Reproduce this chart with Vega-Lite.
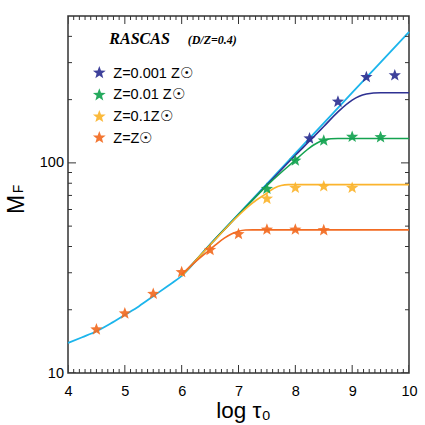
{
  "$schema": "https://vega.github.io/schema/vega-lite/v6.json",
  "width": 341,
  "height": 357,
  "autosize": "none",
  "padding": {"left": 68, "top": 16, "right": 16, "bottom": 52},
  "background": "white",
  "config": {"view": {"stroke": "#333333", "strokeWidth": 1.5}, "font": "Liberation Sans"},
  "datasets": {
    "curves": [
      {"series": "none", "tau": 4.0, "M": 13.9},
      {"series": "none", "tau": 4.25, "M": 14.8},
      {"series": "none", "tau": 4.5, "M": 15.8},
      {"series": "none", "tau": 4.75, "M": 17.2},
      {"series": "none", "tau": 5.0, "M": 18.9},
      {"series": "none", "tau": 5.25, "M": 20.8},
      {"series": "none", "tau": 5.5, "M": 23.2},
      {"series": "none", "tau": 5.75, "M": 25.9},
      {"series": "none", "tau": 6.0, "M": 29.0},
      {"series": "none", "tau": 6.5, "M": 40.9},
      {"series": "none", "tau": 7.0, "M": 57.0},
      {"series": "none", "tau": 7.5, "M": 79.5},
      {"series": "none", "tau": 8.0, "M": 110.9},
      {"series": "none", "tau": 8.5, "M": 154.7},
      {"series": "none", "tau": 9.0, "M": 215.8},
      {"series": "none", "tau": 9.5, "M": 301},
      {"series": "none", "tau": 10.0, "M": 420},
      {"series": "Z=0.001 Z☉", "tau": 6.0, "M": 29.0},
      {"series": "Z=0.001 Z☉", "tau": 6.5, "M": 40.8},
      {"series": "Z=0.001 Z☉", "tau": 7.0, "M": 56.6},
      {"series": "Z=0.001 Z☉", "tau": 7.5, "M": 78.6},
      {"series": "Z=0.001 Z☉", "tau": 8.0, "M": 108.7},
      {"series": "Z=0.001 Z☉", "tau": 8.25, "M": 127},
      {"series": "Z=0.001 Z☉", "tau": 8.5, "M": 149},
      {"series": "Z=0.001 Z☉", "tau": 8.75, "M": 175},
      {"series": "Z=0.001 Z☉", "tau": 9.0, "M": 199},
      {"series": "Z=0.001 Z☉", "tau": 9.125, "M": 207.5},
      {"series": "Z=0.001 Z☉", "tau": 9.25, "M": 212.5},
      {"series": "Z=0.001 Z☉", "tau": 9.375, "M": 215},
      {"series": "Z=0.001 Z☉", "tau": 9.5, "M": 215.6},
      {"series": "Z=0.001 Z☉", "tau": 10.0, "M": 215.6},
      {"series": "Z=0.01 Z☉", "tau": 6.0, "M": 29.0},
      {"series": "Z=0.01 Z☉", "tau": 6.5, "M": 40.8},
      {"series": "Z=0.01 Z☉", "tau": 7.0, "M": 56.7},
      {"series": "Z=0.01 Z☉", "tau": 7.5, "M": 78},
      {"series": "Z=0.01 Z☉", "tau": 7.75, "M": 90},
      {"series": "Z=0.01 Z☉", "tau": 8.0, "M": 103},
      {"series": "Z=0.01 Z☉", "tau": 8.125, "M": 110.5},
      {"series": "Z=0.01 Z☉", "tau": 8.25, "M": 118},
      {"series": "Z=0.01 Z☉", "tau": 8.375, "M": 124},
      {"series": "Z=0.01 Z☉", "tau": 8.5, "M": 128},
      {"series": "Z=0.01 Z☉", "tau": 8.625, "M": 130.2},
      {"series": "Z=0.01 Z☉", "tau": 8.75, "M": 130.6},
      {"series": "Z=0.01 Z☉", "tau": 10.0, "M": 130.6},
      {"series": "Z=0.1Z☉", "tau": 6.0, "M": 29.0},
      {"series": "Z=0.1Z☉", "tau": 6.5, "M": 40.6},
      {"series": "Z=0.1Z☉", "tau": 7.0, "M": 56.2},
      {"series": "Z=0.1Z☉", "tau": 7.25, "M": 64.5},
      {"series": "Z=0.1Z☉", "tau": 7.5, "M": 71.8},
      {"series": "Z=0.1Z☉", "tau": 7.625, "M": 75.7},
      {"series": "Z=0.1Z☉", "tau": 7.75, "M": 78.1},
      {"series": "Z=0.1Z☉", "tau": 7.875, "M": 78.8},
      {"series": "Z=0.1Z☉", "tau": 10.0, "M": 78.8},
      {"series": "Z=Z☉", "tau": 6.0, "M": 29.5},
      {"series": "Z=Z☉", "tau": 6.25, "M": 34.0},
      {"series": "Z=Z☉", "tau": 6.5, "M": 38.7},
      {"series": "Z=Z☉", "tau": 6.625, "M": 41.3},
      {"series": "Z=Z☉", "tau": 6.75, "M": 43.8},
      {"series": "Z=Z☉", "tau": 6.875, "M": 45.9},
      {"series": "Z=Z☉", "tau": 7.0, "M": 47.3},
      {"series": "Z=Z☉", "tau": 7.125, "M": 47.9},
      {"series": "Z=Z☉", "tau": 7.25, "M": 48},
      {"series": "Z=Z☉", "tau": 10.0, "M": 48}
    ],
    "stars": [
      {"series": "Z=0.001 Z☉", "tau": 8.25, "M": 130.6},
      {"series": "Z=0.001 Z☉", "tau": 8.75, "M": 195.4},
      {"series": "Z=0.001 Z☉", "tau": 9.25, "M": 256},
      {"series": "Z=0.001 Z☉", "tau": 9.75, "M": 261},
      {"series": "Z=0.01 Z☉", "tau": 7.5, "M": 75.2},
      {"series": "Z=0.01 Z☉", "tau": 8.0, "M": 102.5},
      {"series": "Z=0.01 Z☉", "tau": 8.5, "M": 127.7},
      {"series": "Z=0.01 Z☉", "tau": 9.0, "M": 133},
      {"series": "Z=0.01 Z☉", "tau": 9.5, "M": 132.5},
      {"series": "Z=0.1Z☉", "tau": 7.5, "M": 67.5},
      {"series": "Z=0.1Z☉", "tau": 8.0, "M": 76.0},
      {"series": "Z=0.1Z☉", "tau": 8.5, "M": 77.3},
      {"series": "Z=0.1Z☉", "tau": 9.0, "M": 76.0},
      {"series": "Z=Z☉", "tau": 4.5, "M": 16.1},
      {"series": "Z=Z☉", "tau": 5.0, "M": 19.2},
      {"series": "Z=Z☉", "tau": 5.5, "M": 23.8},
      {"series": "Z=Z☉", "tau": 6.0, "M": 30.2},
      {"series": "Z=Z☉", "tau": 6.5, "M": 38.5},
      {"series": "Z=Z☉", "tau": 7.0, "M": 45.8},
      {"series": "Z=Z☉", "tau": 7.5, "M": 48.1},
      {"series": "Z=Z☉", "tau": 8.0, "M": 48.1},
      {"series": "Z=Z☉", "tau": 8.5, "M": 47.8}
    ],
    "xticks": [
      {"v": 4.0, "kind": "major"}, {"v": 4.1, "kind": "minor"}, {"v": 4.2, "kind": "minor"}, {"v": 4.3, "kind": "minor"}, {"v": 4.4, "kind": "minor"}, {"v": 4.5, "kind": "minor"}, {"v": 4.6, "kind": "minor"}, {"v": 4.7, "kind": "minor"}, {"v": 4.8, "kind": "minor"}, {"v": 4.9, "kind": "minor"},
      {"v": 5.0, "kind": "major"}, {"v": 5.1, "kind": "minor"}, {"v": 5.2, "kind": "minor"}, {"v": 5.3, "kind": "minor"}, {"v": 5.4, "kind": "minor"}, {"v": 5.5, "kind": "minor"}, {"v": 5.6, "kind": "minor"}, {"v": 5.7, "kind": "minor"}, {"v": 5.8, "kind": "minor"}, {"v": 5.9, "kind": "minor"},
      {"v": 6.0, "kind": "major"}, {"v": 6.1, "kind": "minor"}, {"v": 6.2, "kind": "minor"}, {"v": 6.3, "kind": "minor"}, {"v": 6.4, "kind": "minor"}, {"v": 6.5, "kind": "minor"}, {"v": 6.6, "kind": "minor"}, {"v": 6.7, "kind": "minor"}, {"v": 6.8, "kind": "minor"}, {"v": 6.9, "kind": "minor"},
      {"v": 7.0, "kind": "major"}, {"v": 7.1, "kind": "minor"}, {"v": 7.2, "kind": "minor"}, {"v": 7.3, "kind": "minor"}, {"v": 7.4, "kind": "minor"}, {"v": 7.5, "kind": "minor"}, {"v": 7.6, "kind": "minor"}, {"v": 7.7, "kind": "minor"}, {"v": 7.8, "kind": "minor"}, {"v": 7.9, "kind": "minor"},
      {"v": 8.0, "kind": "major"}, {"v": 8.1, "kind": "minor"}, {"v": 8.2, "kind": "minor"}, {"v": 8.3, "kind": "minor"}, {"v": 8.4, "kind": "minor"}, {"v": 8.5, "kind": "minor"}, {"v": 8.6, "kind": "minor"}, {"v": 8.7, "kind": "minor"}, {"v": 8.8, "kind": "minor"}, {"v": 8.9, "kind": "minor"},
      {"v": 9.0, "kind": "major"}, {"v": 9.1, "kind": "minor"}, {"v": 9.2, "kind": "minor"}, {"v": 9.3, "kind": "minor"}, {"v": 9.4, "kind": "minor"}, {"v": 9.5, "kind": "minor"}, {"v": 9.6, "kind": "minor"}, {"v": 9.7, "kind": "minor"}, {"v": 9.8, "kind": "minor"}, {"v": 9.9, "kind": "minor"},
      {"v": 10.0, "kind": "major"}
    ],
    "yticks": [
      {"v": 10, "kind": "major"}, {"v": 20, "kind": "minor"}, {"v": 30, "kind": "minor"}, {"v": 40, "kind": "minor"}, {"v": 50, "kind": "minor"}, {"v": 60, "kind": "minor"}, {"v": 70, "kind": "minor"}, {"v": 80, "kind": "minor"}, {"v": 90, "kind": "minor"},
      {"v": 100, "kind": "major"}, {"v": 200, "kind": "minor"}, {"v": 300, "kind": "minor"}, {"v": 400, "kind": "minor"}
    ]
  },
  "layer": [
    {
      "data": {"name": "curves"},
      "transform": [{"filter": "datum.series == 'none'"}],
      "mark": {"type": "line", "interpolate": "monotone", "strokeWidth": 1.8, "color": "#1CB5EC"},
      "encoding": {
        "x": {
          "field": "tau", "type": "quantitative",
          "scale": {"domain": [4, 10], "nice": false, "zero": false},
          "axis": {
            "orient": "bottom",
            "domain": false,
            "ticks": false,
            "values": [4, 5, 6, 7, 8, 9, 10],
            "format": "d",
            "labelPadding": 11,
            "labelFlush": false,
            "labelOverlap": false,
            "labelBound": false,
            "labelFont": "Liberation Sans",
            "labelFontSize": 14.5,
            "labelColor": "black",
            "grid": false,
            "title": "log τ₀",
            "titleFont": "Liberation Sans",
            "titleFontSize": 22.5,
            "titleFontWeight": "normal",
            "titleColor": "black",
            "titleX": 175,
            "titleY": 44,
            "titleAlign": "center",
            "titleBaseline": "alphabetic"
          }
        },
        "y": {
          "field": "M", "type": "quantitative",
          "scale": {"type": "log", "domain": [10, 500], "nice": false, "zero": false},
          "axis": {
            "orient": "left",
            "domain": false,
            "ticks": false,
            "values": [10, 100],
            "format": "d",
            "labelPadding": 4.5,
            "labelOverlap": false,
            "labelBound": false,
            "labelFlush": false,
            "labelFont": "Liberation Sans",
            "labelFontSize": 14.5,
            "labelColor": "black",
            "grid": false,
            "title": "M",
            "titleFont": "Liberation Sans",
            "titleFontSize": 23,
            "titleFontWeight": "normal",
            "titleColor": "black",
            "titleAngle": 270,
            "titleX": -45,
            "titleY": 188,
            "titleAlign": "center",
            "titleBaseline": "alphabetic"
          }
        }
      }
    },
    {
      "data": {"name": "xticks"},
      "mark": {"type": "tick", "orient": "vertical", "thickness": 1, "clip": true, "color": "#333333", "opacity": 1},
      "encoding": {
        "x": {"field": "v", "type": "quantitative", "axis": null},
        "y": {"datum": 10, "type": "quantitative", "axis": null},
        "size": {"field": "kind", "type": "ordinal", "scale": {"domain": ["major", "minor"], "range": [16, 8]}, "legend": null}
      }
    },
    {
      "data": {"name": "xticks"},
      "mark": {"type": "tick", "orient": "vertical", "thickness": 1, "clip": true, "color": "#333333", "opacity": 1},
      "encoding": {
        "x": {"field": "v", "type": "quantitative", "axis": null},
        "y": {"datum": 500, "type": "quantitative", "axis": null},
        "size": {"field": "kind", "type": "ordinal", "legend": null}
      }
    },
    {
      "data": {"name": "yticks"},
      "mark": {"type": "tick", "orient": "horizontal", "thickness": 1, "clip": true, "color": "#333333", "opacity": 1},
      "encoding": {
        "y": {"field": "v", "type": "quantitative", "axis": null},
        "x": {"datum": 4, "type": "quantitative", "axis": null},
        "size": {"field": "kind", "type": "ordinal", "legend": null}
      }
    },
    {
      "data": {"name": "yticks"},
      "mark": {"type": "tick", "orient": "horizontal", "thickness": 1, "clip": true, "color": "#333333", "opacity": 1},
      "encoding": {
        "y": {"field": "v", "type": "quantitative", "axis": null},
        "x": {"datum": 10, "type": "quantitative", "axis": null},
        "size": {"field": "kind", "type": "ordinal", "legend": null}
      }
    },
    {
      "data": {"name": "curves"},
      "transform": [{"filter": "datum.series != 'none'"}],
      "mark": {"type": "line", "interpolate": "monotone", "strokeWidth": 1.6},
      "encoding": {
        "x": {"field": "tau", "type": "quantitative", "axis": null},
        "y": {"field": "M", "type": "quantitative", "axis": null},
        "stroke": {
          "field": "series", "type": "nominal",
          "scale": {
            "domain": ["Z=0.001 Z☉", "Z=0.01 Z☉", "Z=0.1Z☉", "Z=Z☉"],
            "range": ["#2E3192", "#14A350", "#FBB42D", "#F26B22"]
          },
          "legend": null
        }
      }
    },
    {
      "data": {"name": "stars"},
      "mark": {
        "type": "point",
        "filled": true,
        "opacity": 0.92,
        "size": 165,
        "strokeWidth": 0,
        "shape": "M0,-1L0.247,-0.34L0.951,-0.309L0.4,0.13L0.588,0.809L0,0.42L-0.588,0.809L-0.4,0.13L-0.951,-0.309L-0.247,-0.34Z"
      },
      "encoding": {
        "x": {"field": "tau", "type": "quantitative", "axis": null},
        "y": {"field": "M", "type": "quantitative", "axis": null},
        "color": {
          "field": "series", "type": "nominal",
          "scale": {
            "domain": ["Z=0.001 Z☉", "Z=0.01 Z☉", "Z=0.1Z☉", "Z=Z☉"],
            "range": ["#2E3192", "#14A350", "#FBB42D", "#F26B22"]
          },
          "legend": null
        }
      }
    },
    {
      "data": {"values": [{}]},
      "mark": {"type": "point", "filled": true, "opacity": 0.92, "size": 180, "strokeWidth": 0, "shape": "M0,-1L0.247,-0.34L0.951,-0.309L0.4,0.13L0.588,0.809L0,0.42L-0.588,0.809L-0.4,0.13L-0.951,-0.309L-0.247,-0.34Z"},
      "encoding": {
        "x": {"datum": 4.551, "type": "quantitative", "axis": null},
        "y": {"datum": 268.6, "type": "quantitative", "axis": null},
        "color": {"datum": "Z=0.001 Z☉", "type": "nominal", "legend": null}
      }
    },
    {
      "data": {"values": [{}]},
      "mark": {"type": "point", "filled": true, "opacity": 0.92, "size": 180, "strokeWidth": 0, "shape": "M0,-1L0.247,-0.34L0.951,-0.309L0.4,0.13L0.588,0.809L0,0.42L-0.588,0.809L-0.4,0.13L-0.951,-0.309L-0.247,-0.34Z"},
      "encoding": {
        "x": {"datum": 4.551, "type": "quantitative", "axis": null},
        "y": {"datum": 210.4, "type": "quantitative", "axis": null},
        "color": {"datum": "Z=0.01 Z☉", "type": "nominal", "legend": null}
      }
    },
    {
      "data": {"values": [{}]},
      "mark": {"type": "point", "filled": true, "opacity": 0.92, "size": 180, "strokeWidth": 0, "shape": "M0,-1L0.247,-0.34L0.951,-0.309L0.4,0.13L0.588,0.809L0,0.42L-0.588,0.809L-0.4,0.13L-0.951,-0.309L-0.247,-0.34Z"},
      "encoding": {
        "x": {"datum": 4.551, "type": "quantitative", "axis": null},
        "y": {"datum": 165.9, "type": "quantitative", "axis": null},
        "color": {"datum": "Z=0.1Z☉", "type": "nominal", "legend": null}
      }
    },
    {
      "data": {"values": [{}]},
      "mark": {"type": "point", "filled": true, "opacity": 0.92, "size": 180, "strokeWidth": 0, "shape": "M0,-1L0.247,-0.34L0.951,-0.309L0.4,0.13L0.588,0.809L0,0.42L-0.588,0.809L-0.4,0.13L-0.951,-0.309L-0.247,-0.34Z"},
      "encoding": {
        "x": {"datum": 4.551, "type": "quantitative", "axis": null},
        "y": {"datum": 131.8, "type": "quantitative", "axis": null},
        "color": {"datum": "Z=Z☉", "type": "nominal", "legend": null}
      }
    },
    {
      "data": {"values": [{}]},
      "mark": {"type": "text", "text": ["Z=0.001 Z☉", "Z=0.01 Z☉", "Z=0.1Z☉", "Z=Z☉"], "lineHeight": 21.7, "font": "Liberation Sans", "fontSize": 14.5, "align": "left", "baseline": "alphabetic", "color": "black"},
      "encoding": {
        "x": {"datum": 4.797, "type": "quantitative", "axis": null},
        "y": {"datum": 254.3, "type": "quantitative", "axis": null}
      }
    },
    {
      "data": {"values": [{}]},
      "mark": {"type": "text", "text": "RASCAS", "font": "Liberation Serif", "fontStyle": "italic", "fontWeight": "bold", "fontSize": 16, "align": "left", "baseline": "alphabetic", "color": "black"},
      "encoding": {
        "x": {"datum": 4.727, "type": "quantitative", "axis": null},
        "y": {"datum": 366.6, "type": "quantitative", "axis": null}
      }
    },
    {
      "data": {"values": [{}]},
      "mark": {"type": "text", "text": "(D/Z=0.4)", "font": "Liberation Serif", "fontStyle": "italic", "fontWeight": "bold", "fontSize": 12, "align": "left", "baseline": "alphabetic", "color": "black"},
      "encoding": {
        "x": {"datum": 6.106, "type": "quantitative", "axis": null},
        "y": {"datum": 366.6, "type": "quantitative", "axis": null}
      }
    },
    {
      "data": {"values": [{}]},
      "mark": {"type": "text", "text": "F", "font": "Liberation Sans", "fontSize": 14, "angle": 270, "align": "center", "baseline": "alphabetic", "color": "black"},
      "encoding": {
        "x": {"datum": 3.21, "type": "quantitative", "axis": null},
        "y": {"datum": 75.1, "type": "quantitative", "axis": null}
      }
    }
  ],
  "resolve": {"axis": {"x": "independent", "y": "independent"}}
}
